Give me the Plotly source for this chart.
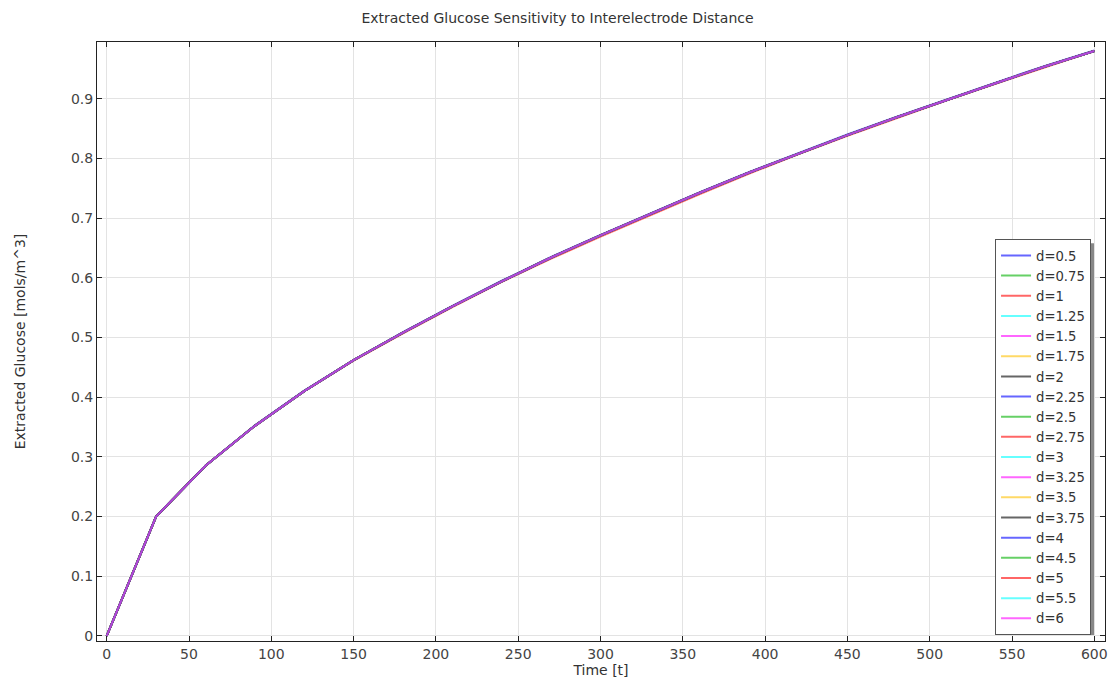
import plotly.graph_objects as go

# ---- data ----
time_t = [0, 30, 60, 90, 120, 150, 180, 210, 240, 270, 300, 330, 360, 390, 420, 450, 480, 510, 540, 570, 600]

# upper edge of the bundle
glucose_upper = [0, 0.200, 0.285, 0.353, 0.411, 0.462, 0.509, 0.553, 0.595, 0.635, 0.672, 0.708, 0.743, 0.777, 0.809, 0.840, 0.870, 0.899, 0.927, 0.955, 0.981]
# middle of the bundle
glucose_mid = [0, 0.200, 0.285, 0.352, 0.410, 0.462, 0.508, 0.552, 0.594, 0.634, 0.671, 0.707, 0.742, 0.776, 0.808, 0.839, 0.869, 0.898, 0.926, 0.954, 0.980]
# lower edge of the bundle
glucose_lower = [0, 0.200, 0.285, 0.352, 0.410, 0.461, 0.507, 0.551, 0.593, 0.632, 0.669, 0.705, 0.740, 0.774, 0.807, 0.838, 0.868, 0.897, 0.925, 0.953, 0.980]

d_labels = ["d=0.5", "d=0.75", "d=1", "d=1.25", "d=1.5", "d=1.75", "d=2", "d=2.25", "d=2.5",
            "d=2.75", "d=3", "d=3.25", "d=3.5", "d=3.75", "d=4", "d=4.5", "d=5", "d=5.5", "d=6"]
series_group = ["upper", "mid", "lower", "mid", "mid", "mid", "mid", "mid", "mid",
                "mid", "mid", "mid", "mid", "mid", "mid", "mid", "mid", "mid", "mid"]

palette = ["#0000ff", "#00b000", "#ff0000", "#00ffff", "#ff00ff", "#ffbf00", "#000000"]

groups = {"upper": glucose_upper, "mid": glucose_mid, "lower": glucose_lower}

fig = go.Figure()
for i, (lab, grp) in enumerate(zip(d_labels, series_group)):
    fig.add_trace(go.Scatter(
        x=time_t, y=groups[grp], mode="lines", name=lab,
        line=dict(color=palette[i % len(palette)], width=2),
        opacity=0.6,
    ))

FONT = "DejaVu Sans"
L, R, T, B = 97, 7, 42, 38
W, H = 1115, 681
pw, ph = W - L - R, H - T - B

def px_x(px):
    return (px - L) / pw

def px_y(py):
    return (H - B - py) / ph

axis_common = dict(
    showline=True, linecolor="#222", linewidth=1, mirror="ticks",
    ticks="inside", ticklen=5, tickcolor="#222",
    showgrid=True, gridcolor="#e3e3e3", gridwidth=1, zeroline=False,
    tickfont=dict(family=FONT, size=14, color="#444"),
)

fig.update_layout(
    width=W, height=H,
    margin=dict(l=L, r=R, t=T, b=B),
    paper_bgcolor="white", plot_bgcolor="white",
    title=dict(text="Extracted Glucose Sensitivity to Interelectrode Distance",
               x=0.5, xanchor="center", y=1 - 18 / H, yanchor="middle",
               font=dict(family=FONT, size=14, color="#333")),
    xaxis=dict(axis_common, range=[-5.9, 606.5], dtick=50, tick0=0,
               title=dict(text="Time [t]", standoff=2,
                          font=dict(family=FONT, size=14, color="#333"))),
    yaxis=dict(axis_common, range=[-0.0085, 0.995], dtick=0.1, tick0=0,
               tickformat="~g",
               title=dict(text="Extracted Glucose [mols/m^3]", standoff=42,
                          font=dict(family=FONT, size=14, color="#333"))),
    showlegend=True,
    legend=dict(x=px_x(1094), xanchor="right", y=px_y(240), yanchor="top",
                bgcolor="white", bordercolor="#555", borderwidth=1,
                font=dict(family=FONT, size=13.2, color="#333"),
                tracegroupgap=0),
)

# legend drop shadow (only visible at right and bottom)
fig.add_shape(type="rect", xref="paper", yref="paper",
              x0=px_x(1005), x1=px_x(1097), y0=px_y(637), y1=px_y(244),
              fillcolor="#888", line=dict(width=0), layer="above")

fig.write_html("out.html")
